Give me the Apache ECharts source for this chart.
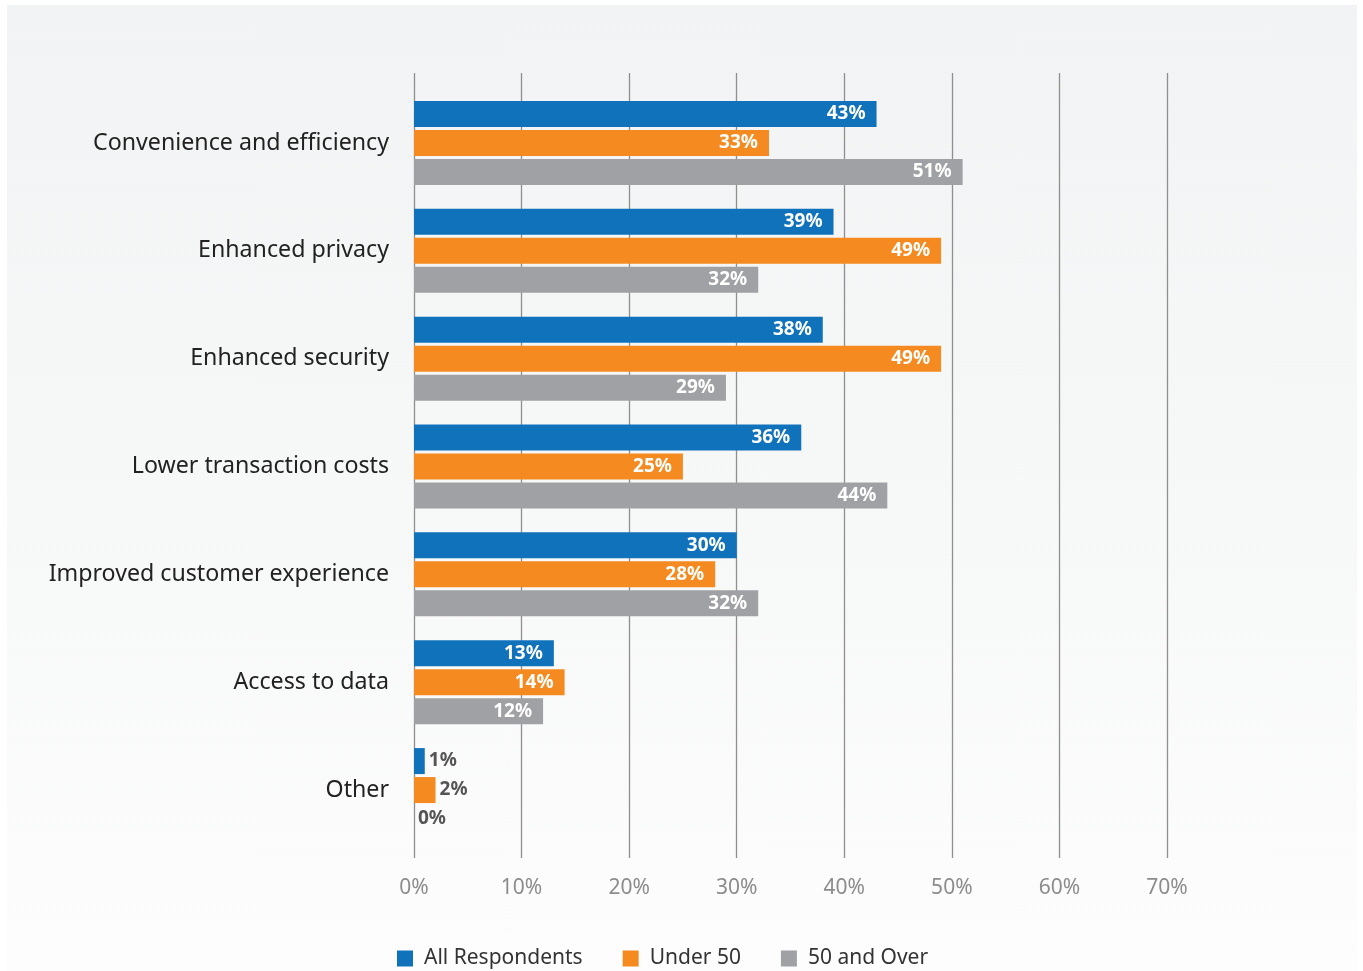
<!DOCTYPE html>
<html>
<head>
<meta charset="utf-8">
<script src="https://cdn.jsdelivr.net/npm/echarts@6/dist/echarts.min.js"></script>
<style>
  html, body { margin: 0; padding: 0; background: #ffffff; }
  #panel {
    position: absolute; left: 7px; top: 5px; width: 1350px; height: 966px;
    background: linear-gradient(to bottom, #f2f3f4 0%, #f6f7f7 45%, #fdfdfd 100%);
  }
  #chart { position: absolute; left: 0; top: 0; width: 1363px; height: 971px; }
</style>
</head>
<body>
<div id="panel"></div>
<div id="chart"></div>
<script>
const categories = [
  'Convenience and efficiency',
  'Enhanced privacy',
  'Enhanced security',
  'Lower transaction costs',
  'Improved customer experience',
  'Access to data',
  'Other'
];
const allRespondents = [43, 39, 38, 36, 30, 13, 1];
const under50 = [33, 49, 49, 25, 28, 14, 2];
const over50 = [51, 32, 29, 44, 32, 12, 0];
const seriesNames = ['All Respondents', 'Under 50', '50 and Over'];
const colors = ['#1172bc', '#f58b20', '#a0a1a5'];
const xTicks = [0, 10, 20, 30, 40, 50, 60, 70];

const FONT = '"Noto Sans", "Open Sans", sans-serif';

function makeSeries(name, data, color) {
  return {
    name: name,
    type: 'bar',
    xAxisIndex: 0,
    yAxisIndex: 0,
    barWidth: 26,
    barGap: '11.5%',
    itemStyle: { color: color },
    data: data.map(function (v) {
      const small = v < 5;
      return {
        value: v,
        label: small
          ? { position: 'right', distance: 4, color: '#555555' }
          : { position: 'insideRight', distance: 11, color: '#ffffff' }
      };
    }),
    label: {
      show: true,
      formatter: '{c}%',
      fontFamily: FONT,
      fontWeight: 'bold',
      fontSize: 19,
      padding: [3, 0, 0, 0]
    }
  };
}

const chart = echarts.init(document.getElementById('chart'), null, { renderer: 'canvas' });
chart.setOption({
  backgroundColor: 'transparent',
  animation: false,
  color: colors,
  grid: [
    { left: 414, top: 89, width: 753, height: 755, containLabel: false },
    { left: 414, top: 73, width: 753, height: 785, containLabel: false }
  ],
  xAxis: [
    {
      type: 'value', gridIndex: 0, min: 0, max: 70, interval: 10,
      axisLine: { show: false }, axisTick: { show: false },
      axisLabel: { show: false }, splitLine: { show: false }
    },
    {
      type: 'value', gridIndex: 1, min: 0, max: 70, interval: 10,
      axisLine: { show: false }, axisTick: { show: false },
      axisLabel: {
        show: true, margin: 20, fontFamily: FONT, fontSize: 21, color: '#8c8c8c',
        formatter: function (v) { return xTicks.indexOf(v) >= 0 ? v + '%' : ''; }
      },
      splitLine: { show: true, lineStyle: { color: '#8f8f8f', width: 1.3 } }
    }
  ],
  yAxis: [
    {
      type: 'category', gridIndex: 0, data: categories, inverse: true,
      axisLine: { show: false }, axisTick: { show: false },
      axisLabel: { margin: 25, fontFamily: FONT, fontSize: 23.2, color: '#222222', padding: [3, 0, 0, 0] }
    },
    {
      type: 'value', gridIndex: 1, show: false, min: 0, max: 1,
      splitLine: { show: false }
    }
  ],
  legend: {
    left: 397, top: 948, padding: 0,
    itemWidth: 16, itemHeight: 16, itemGap: 40,
    icon: 'rect',
    data: seriesNames,
    textStyle: { fontFamily: FONT, fontSize: 21, color: '#333333', padding: [0, 0, 0, 6] }
  },
  series: [
    makeSeries(seriesNames[0], allRespondents, colors[0]),
    makeSeries(seriesNames[1], under50, colors[1]),
    makeSeries(seriesNames[2], over50, colors[2])
  ]
});
</script>
</body>
</html>
